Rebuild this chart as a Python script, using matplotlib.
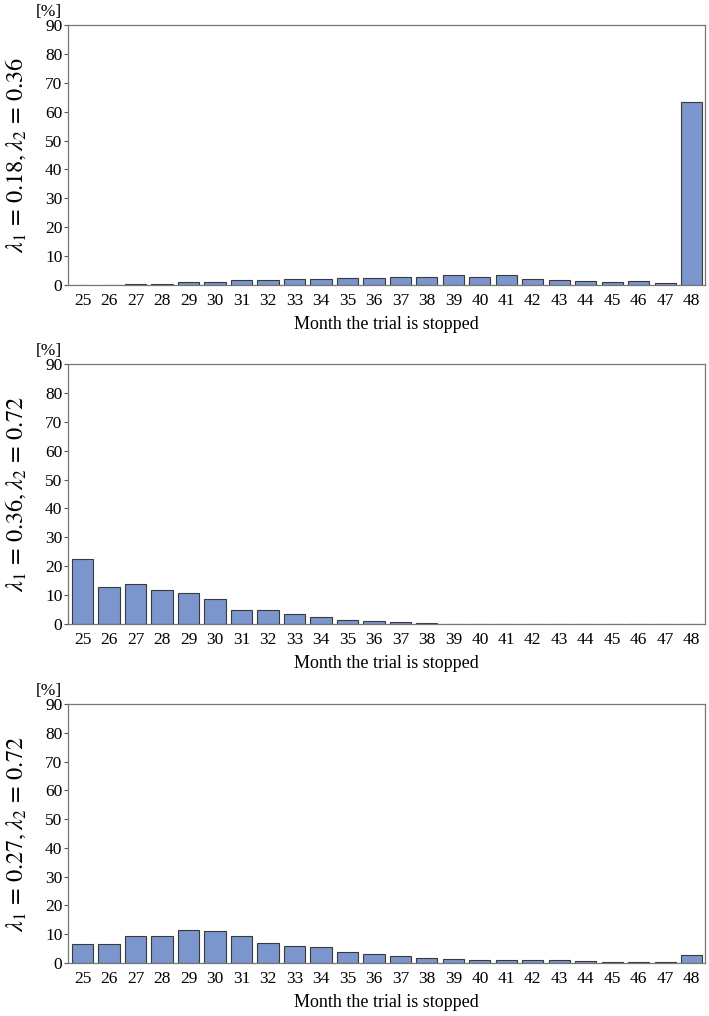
import matplotlib
matplotlib.use("Agg")
import matplotlib.pyplot as plt
import numpy as np

# Months at which the trial is stopped
months = list(range(25, 49))

# Percentages per scenario
pct_a = [0.0, 0.0, 0.2, 0.4, 0.9, 1.2, 1.6, 1.6, 2.1, 2.1, 2.3, 2.3,
         2.6, 2.8, 3.3, 2.9, 3.5, 2.1, 1.9, 1.4, 1.1, 1.3, 0.8, 63.4]
pct_b = [22.4, 12.8, 13.7, 11.7, 10.8, 8.6, 5.0, 4.7, 3.4, 2.3, 1.4, 1.2,
         0.8, 0.35, 0.1, 0.1, 0.1, 0.1, 0.1, 0.1, 0.1, 0.1, 0.0, 0.1]
pct_c = [6.5, 6.5, 9.3, 9.5, 11.3, 11.0, 9.3, 7.0, 6.0, 5.6, 3.8, 3.3,
         2.3, 1.8, 1.5, 1.2, 0.9, 0.9, 0.9, 0.6, 0.2, 0.2, 0.2, 2.9]

panel_labels = [r"$\lambda_1\,=\,0.18, \lambda_2\,=\,0.36$",
                r"$\lambda_1\,=\,0.36, \lambda_2\,=\,0.72$",
                r"$\lambda_1\,=\,0.27, \lambda_2\,=\,0.72$"]

plt.rcParams["font.family"] = "Liberation Serif"
plt.rcParams["mathtext.fontset"] = "stix"

W, H = 709, 1016
fig = plt.figure(figsize=(W / 100, H / 100), dpi=100)

# axes boxes in pixels: (top, bottom)
boxes = [(25, 285), (364, 624), (704, 963)]
left_px, right_px = 68, 705

x = np.arange(len(months))
for (top, bot), vals, lab in zip(boxes, [pct_a, pct_b, pct_c], panel_labels):
    ax = fig.add_axes([left_px / W, 1 - bot / H, (right_px - left_px) / W, (bot - top) / H])
    ax.bar(x, vals, width=0.8, color="#7b96cc", edgecolor="#3a3a3a", linewidth=0.8)
    ax.set_xlim(-0.55, 23.5)
    ax.set_ylim(0, 90)
    ax.set_yticks(range(0, 91, 10))
    ax.set_xticks(x)
    ax.set_xticklabels([str(m) for m in months])
    ax.tick_params(axis="x", length=0, labelsize=12.5, pad=6)
    ax.tick_params(axis="y", length=3, labelsize=12.5, pad=1, color="#555555")
    for s in ax.spines.values():
        s.set_color("#777777")
        s.set_linewidth(0.9)
    ax.set_xlabel("Month the trial is stopped", fontsize=13, labelpad=5)
    ax.text(-0.01, 1.02, "[%]", transform=ax.transAxes, ha="right", va="bottom", fontsize=12.5)
    fig.text(16 / W, 1 - (top + bot) / 2 / H, lab, rotation=90, ha="center", va="center", fontsize=17.5)

fig.savefig("out.png", dpi=100)
